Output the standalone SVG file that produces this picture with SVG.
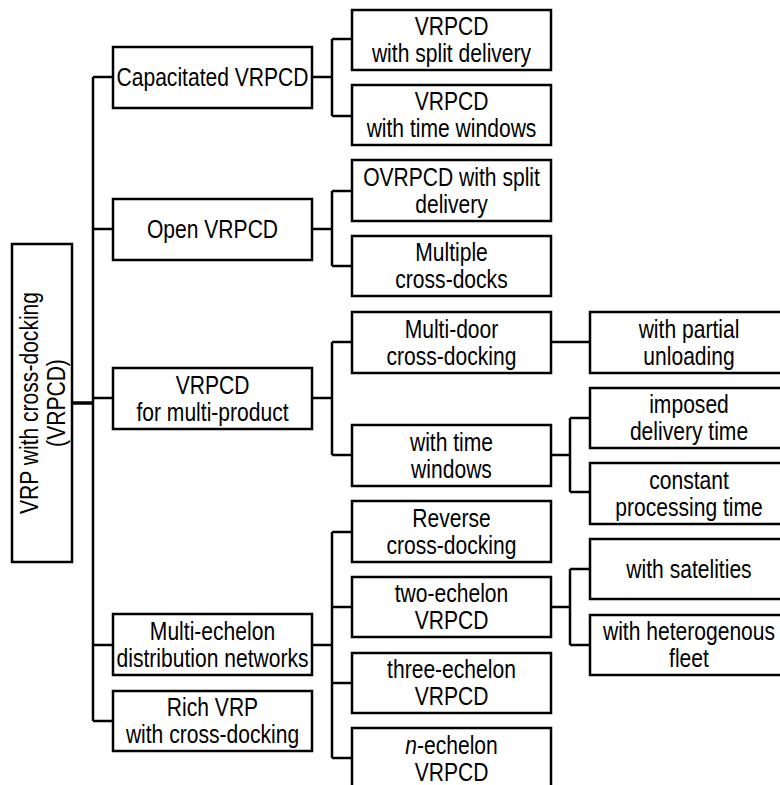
<svg xmlns="http://www.w3.org/2000/svg" width="780" height="785" viewBox="0 0 780 785">
<style>
.box{fill:#fff;stroke:#000;stroke-width:2.5}
.con{fill:none;stroke:#000;stroke-width:2.5}
text{font-family:"Liberation Sans",Arial,sans-serif;font-size:25px;fill:#000;text-anchor:middle}
</style>
<g id="connectors" class="con">
<path d="M72,403H93" stroke-width="3.5"/>
<path d="M93,77V721M93,77H113M93,229H113M93,398H113M93,645H113M93,721H113"/>
<path d="M312,77H332M332,39V116M332,39H352M332,116H352"/>
<path d="M312,229H332M332,191V266M332,191H352M332,266H352"/>
<path d="M312,398H332M332,342V455M332,342H352M332,455H352"/>
<path d="M312,645H332M332,532V758M332,532H352M332,607H352M332,683H352M332,758H352"/>
<path d="M551,342H590"/>
<path d="M551,455H570M570,418V492M570,418H590M570,492H590"/>
<path d="M551,607H570M570,569V645M570,569H590M570,645H590"/>
</g>
<g id="root"><rect class="box" x="12" y="244" width="60" height="318"/>
<text transform="translate(38 403) rotate(-90) scale(0.843 1)"><tspan x="0" y="0">VRP with cross-docking</tspan><tspan x="0" y="27">(VRPCD)</tspan></text></g>
<g id="capacitated"><rect class="box" x="113" y="47" width="199" height="61"/>
<text transform="translate(212.5 0) scale(0.843 1)" y="86.5">Capacitated VRPCD</text></g>
<g id="open"><rect class="box" x="113" y="199" width="199" height="61"/>
<text transform="translate(212.5 0) scale(0.843 1)" y="238.5">Open VRPCD</text></g>
<g id="multiproduct"><rect class="box" x="113" y="368" width="199" height="61"/>
<text transform="translate(212.5 0) scale(0.843 1)"><tspan x="0" y="394">VRPCD</tspan><tspan x="0" y="421">for multi-product</tspan></text></g>
<g id="multiechelon"><rect class="box" x="113" y="614" width="199" height="61"/>
<text transform="translate(212.5 0) scale(0.843 1)"><tspan x="0" y="640">Multi-echelon</tspan><tspan x="0" y="667">distribution networks</tspan></text></g>
<g id="rich"><rect class="box" x="113" y="691" width="199" height="60"/>
<text transform="translate(212.5 0) scale(0.843 1)"><tspan x="0" y="716.5">Rich VRP</tspan><tspan x="0" y="743.5">with cross-docking</tspan></text></g>
<g id="split"><rect class="box" x="352" y="10" width="199" height="60"/>
<text transform="translate(451.5 0) scale(0.843 1)"><tspan x="0" y="35.5">VRPCD</tspan><tspan x="0" y="62.5">with split delivery</tspan></text></g>
<g id="timewindows"><rect class="box" x="352" y="85" width="199" height="60"/>
<text transform="translate(451.5 0) scale(0.843 1)"><tspan x="0" y="110.5">VRPCD</tspan><tspan x="0" y="137.5">with time windows</tspan></text></g>
<g id="ovrpcd"><rect class="box" x="352" y="160" width="199" height="61"/>
<text transform="translate(451.5 0) scale(0.843 1)"><tspan x="0" y="186">OVRPCD with split</tspan><tspan x="0" y="213">delivery</tspan></text></g>
<g id="multiple"><rect class="box" x="352" y="236" width="199" height="60"/>
<text transform="translate(451.5 0) scale(0.843 1)"><tspan x="0" y="261.5">Multiple</tspan><tspan x="0" y="288.5">cross-docks</tspan></text></g>
<g id="multidoor"><rect class="box" x="352" y="312" width="199" height="61"/>
<text transform="translate(451.5 0) scale(0.843 1)"><tspan x="0" y="338">Multi-door</tspan><tspan x="0" y="365">cross-docking</tspan></text></g>
<g id="withtw"><rect class="box" x="352" y="425" width="199" height="61"/>
<text transform="translate(451.5 0) scale(0.843 1)"><tspan x="0" y="451">with time</tspan><tspan x="0" y="478">windows</tspan></text></g>
<g id="reverse"><rect class="box" x="352" y="501" width="199" height="61"/>
<text transform="translate(451.5 0) scale(0.843 1)"><tspan x="0" y="527">Reverse</tspan><tspan x="0" y="554">cross-docking</tspan></text></g>
<g id="two"><rect class="box" x="352" y="577" width="199" height="60"/>
<text transform="translate(451.5 0) scale(0.843 1)"><tspan x="0" y="602.5">two-echelon</tspan><tspan x="0" y="629.5">VRPCD</tspan></text></g>
<g id="three"><rect class="box" x="352" y="653" width="199" height="60"/>
<text transform="translate(451.5 0) scale(0.843 1)"><tspan x="0" y="678.5">three-echelon</tspan><tspan x="0" y="705.5">VRPCD</tspan></text></g>
<g id="nech"><rect class="box" x="352" y="728" width="199" height="61"/>
<text transform="translate(451.5 0) scale(0.843 1)"><tspan x="0" y="754"><tspan font-style="italic">n</tspan>-echelon</tspan><tspan x="0" y="781">VRPCD</tspan></text></g>
<g id="partial"><rect class="box" x="590" y="312" width="198" height="61"/>
<text transform="translate(689 0) scale(0.843 1)"><tspan x="0" y="338">with partial</tspan><tspan x="0" y="365">unloading</tspan></text></g>
<g id="imposed"><rect class="box" x="590" y="388" width="198" height="60"/>
<text transform="translate(689 0) scale(0.843 1)"><tspan x="0" y="413.5">imposed</tspan><tspan x="0" y="440.5">delivery time</tspan></text></g>
<g id="constant"><rect class="box" x="590" y="463" width="198" height="61"/>
<text transform="translate(689 0) scale(0.843 1)"><tspan x="0" y="489">constant</tspan><tspan x="0" y="516">processing time</tspan></text></g>
<g id="satelities"><rect class="box" x="590" y="539" width="198" height="60"/>
<text transform="translate(689 0) scale(0.843 1)" y="578">with satelities</text></g>
<g id="heterogenous"><rect class="box" x="590" y="615" width="198" height="60"/>
<text transform="translate(689 0) scale(0.843 1)"><tspan x="0" y="640.5">with heterogenous</tspan><tspan x="0" y="667.5">fleet</tspan></text></g>
</svg>
